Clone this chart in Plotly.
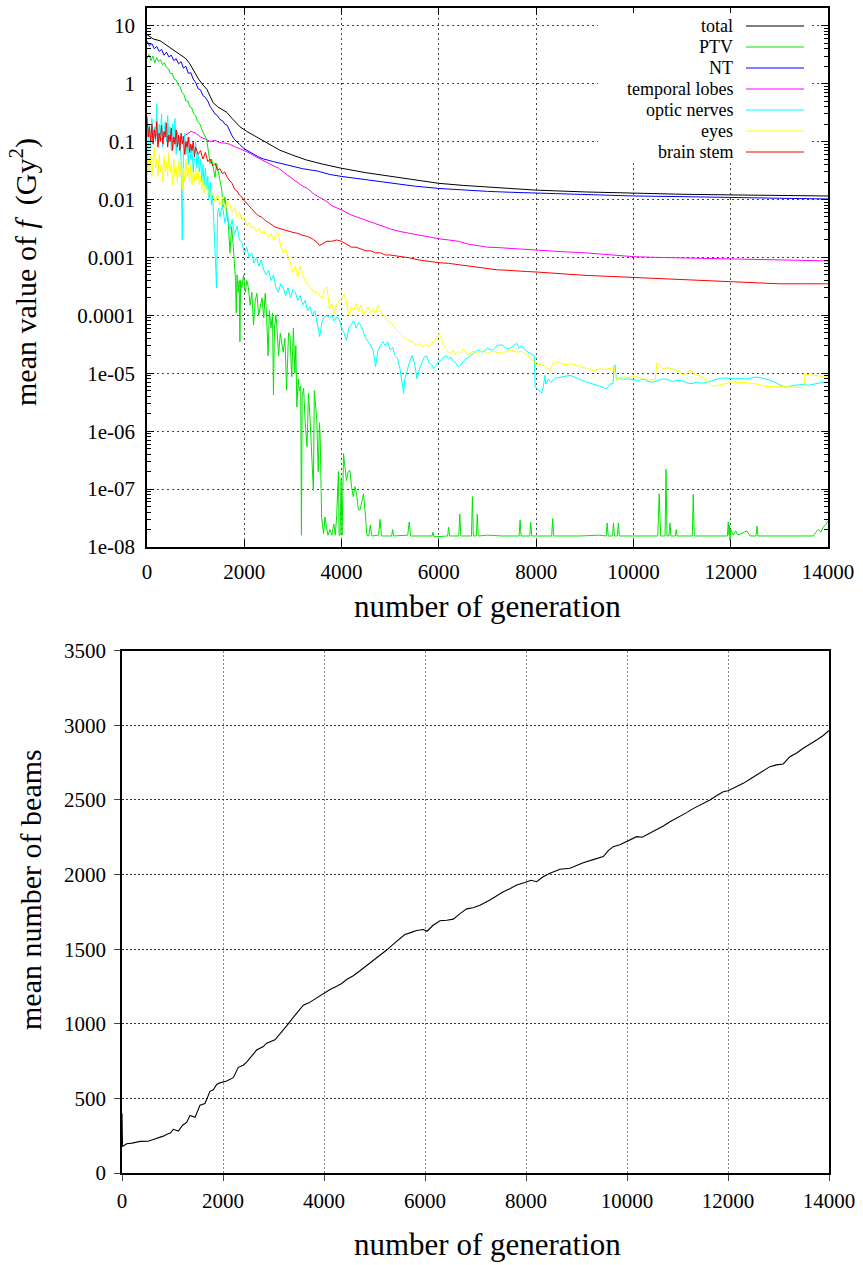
import plotly.graph_objects as go

W, H = 863, 1265

# ---------------- data (generation, value) ----------------
total_pts = [(0, 7.0), (130, 5.9), (270, 5.5), (405, 4.6), (540, 3.8), (680, 3.2), (800, 2.7), (880, 2.2),
             (970, 1.6), (1060, 1.2), (1150, 0.95), (1230, 0.8), (1300, 0.6), (1360, 0.47), (1450, 0.4),
             (1550, 0.36), (1640, 0.32), (1750, 0.25), (1910, 0.18), (2050, 0.15), (2250, 0.12), (2500, 0.09),
             (2730, 0.071), (3000, 0.058), (3280, 0.048), (3600, 0.041), (3970, 0.035), (4500, 0.029),
             (5000, 0.025), (5500, 0.0215), (6000, 0.019), (6500, 0.0175), (7000, 0.0163), (7500, 0.0153),
             (8000, 0.0145), (9000, 0.0135), (10000, 0.0128), (11000, 0.0123), (12000, 0.012), (13000, 0.0117),
             (14000, 0.0115)]

ptv_pts = [(0, 2.7), (40, 3.2), (80, 2.5), (120, 3.0), (160, 2.3), (200, 2.8), (240, 2.4), (280, 2.6), (320, 2.1),
           (360, 2.3), (400, 1.9), (440, 1.8), (480, 1.5), (520, 1.5), (560, 1.2), (600, 1.15), (640, 0.95),
           (680, 0.89), (720, 0.7), (760, 0.65), (800, 0.5), (840, 0.5), (880, 0.4), (920, 0.38), (960, 0.3),
           (1000, 0.28), (1040, 0.22), (1090, 0.2), (1130, 0.16), (1180, 0.13), (1227, 0.107), (1260, 0.07),
           (1295, 0.042), (1330, 0.05), (1364, 0.036), (1398, 0.024), (1432, 0.042), (1470, 0.03), (1500, 0.022),
           (1535, 0.015), (1569, 0.0074), (1603, 0.011), (1637, 0.0058), (1670, 0.004), (1706, 0.0012),
           (1740, 0.0034), (1775, 0.0015), (1809, 0.0007), (1820, 0.0004), (1835, 0.00011), (1850, 0.0005),
           (1875, 0.00025), (1895, 0.0004), (1910, 3.5e-5), (1925, 0.0004), (1950, 0.0003), (1985, 0.0005),
           (2020, 0.00025), (2050, 0.0004), (2085, 0.0003), (2120, 0.00015), (2155, 0.00025), (2190, 6.8e-5),
           (2225, 0.00018), (2260, 0.00024), (2295, 0.0001), (2330, 0.00015), (2365, 0.0002), (2400, 9e-5),
           (2430, 0.00024), (2460, 9.3e-5), (2490, 2e-5), (2515, 0.00012), (2550, 6e-5), (2580, 0.00011),
           (2600, 4.2e-6), (2620, 6e-5), (2650, 0.0001), (2670, 6.3e-5), (2705, 2e-5), (2740, 4.9e-5),
           (2770, 3e-5), (2800, 2.3e-5), (2835, 4e-5), (2870, 5.1e-6), (2910, 5e-5), (2940, 4.5e-5),
           (2975, 8.7e-6), (3010, 6e-5), (3040, 1e-5), (3060, 3e-5), (3080, 2.6e-6), (3110, 8e-6), (3130, 5e-6),
           (3160, 6e-6), (3175, 1.6e-8), (3190, 4e-6), (3220, 5.5e-6), (3250, 1.5e-6), (3290, 5.4e-7),
           (3320, 4.5e-6), (3350, 1.8e-6), (3385, 3.5e-7), (3420, 9.5e-8), (3440, 5e-6), (3460, 2.6e-6),
           (3490, 1.6e-6), (3520, 2e-7), (3545, 1.4e-6), (3560, 8e-7), (3590, 3.3e-8), (3630, 1.7e-8),
           (3660, 3.3e-8), (3690, 2.2e-8), (3720, 1.6e-8), (3760, 2e-8), (3800, 1.6e-8), (3840, 2.5e-8),
           (3870, 1.6e-8), (3900, 3.5e-8), (3920, 1.3e-7), (3935, 2e-7), (3950, 1.6e-8), (3970, 1.6e-8),
           (3990, 1.5e-7), (4010, 1.6e-8), (4040, 4.1e-7), (4070, 2.4e-7), (4100, 1.4e-7), (4135, 2e-7),
           (4170, 2.1e-7), (4205, 1.1e-7), (4240, 7.4e-8), (4275, 1.1e-7), (4310, 8e-8), (4345, 4.4e-8),
           (4380, 4.4e-8), (4415, 6e-8), (4450, 8.3e-8), (4485, 4e-8), (4520, 1.6e-8), (4560, 1.55e-8),
           (4590, 2.4e-8), (4620, 1.55e-8), (4760, 1.6e-8), (4790, 3e-8), (4820, 1.55e-8), (5030, 1.55e-8),
           (5050, 2e-8), (5070, 1.55e-8), (5360, 1.6e-8), (5390, 2.7e-8), (5420, 1.55e-8), (5860, 1.55e-8),
           (5880, 1.8e-8), (5900, 1.5e-8), (6180, 1.55e-8), (6200, 2.2e-8), (6220, 1.55e-8), (6410, 1.55e-8),
           (6430, 3.7e-8), (6450, 1.55e-8), (6670, 1.55e-8), (6690, 7.4e-8), (6710, 1.55e-8), (6770, 1.55e-8),
           (6790, 3.7e-8), (6810, 1.55e-8), (7000, 1.6e-8), (7300, 1.55e-8), (7650, 1.55e-8), (7670, 2.9e-8),
           (7690, 1.55e-8), (7870, 1.55e-8), (7890, 2.7e-8), (7910, 1.55e-8), (8320, 1.55e-8), (8340, 3.1e-8),
           (8360, 1.55e-8), (8900, 1.55e-8), (9300, 1.6e-8), (9440, 1.55e-8), (9460, 2.6e-8), (9480, 1.55e-8),
           (9570, 1.55e-8), (9590, 2.6e-8), (9610, 1.55e-8), (9670, 1.55e-8), (9690, 2.6e-8), (9710, 1.55e-8),
           (10100, 1.55e-8), (10500, 1.55e-8), (10530, 8.3e-8), (10560, 1.55e-8), (10650, 1.55e-8),
           (10670, 2.2e-7), (10690, 1.55e-8), (10730, 1.55e-8), (10750, 2.6e-8), (10770, 1.55e-8),
           (10860, 1.55e-8), (10880, 2e-8), (10900, 1.55e-8), (11210, 1.55e-8), (11230, 8.1e-8),
           (11250, 1.55e-8), (11600, 1.55e-8), (11930, 1.55e-8), (11950, 2.7e-8), (11965, 1.6e-8),
           (11975, 2.4e-8), (11985, 1.3e-8), (12000, 2e-8), (12050, 1.6e-8), (12100, 1.9e-8), (12150, 1.6e-8),
           (12330, 1.9e-8), (12400, 1.55e-8), (12520, 1.55e-8), (12540, 2.3e-8), (12560, 1.55e-8),
           (13000, 1.55e-8), (13600, 1.55e-8), (13700, 1.55e-8), (13750, 1.8e-8), (13800, 2e-8),
           (13850, 1.8e-8), (13900, 2.2e-8), (13950, 2.4e-8), (14000, 2.8e-8)]

nt_pts = [(0, 5.4), (50, 4.5), (100, 4.9), (150, 4.0), (200, 4.4), (250, 3.6), (300, 3.9), (350, 3.1), (400, 3.5),
          (450, 2.9), (500, 3.1), (550, 2.5), (600, 2.7), (650, 2.2), (700, 2.4), (750, 1.85), (800, 2.0),
          (850, 1.5), (900, 1.55), (950, 1.2), (1000, 1.05), (1050, 0.82), (1100, 0.78), (1150, 0.62), (1200, 0.58),
          (1250, 0.5), (1300, 0.4), (1350, 0.34), (1400, 0.3), (1450, 0.28), (1500, 0.24), (1550, 0.23),
          (1600, 0.2), (1650, 0.19), (1700, 0.15), (1750, 0.125), (1800, 0.108), (1850, 0.1), (1900, 0.09),
          (2000, 0.075), (2100, 0.066), (2200, 0.06), (2300, 0.054), (2400, 0.05), (2600, 0.045), (2800, 0.041),
          (3000, 0.037), (3200, 0.034), (3500, 0.031), (3760, 0.027), (4000, 0.025), (4500, 0.022),
          (5000, 0.019), (5500, 0.017), (6000, 0.0155), (6500, 0.0145), (7000, 0.0138), (7500, 0.0133),
          (8000, 0.0129), (9000, 0.012), (10000, 0.0115), (11000, 0.0112), (12000, 0.011), (13000, 0.0105),
          (14000, 0.0102)]

temporal_pts = [(0, 0.13), (100, 0.12), (200, 0.13), (300, 0.11), (400, 0.125), (500, 0.11), (600, 0.12),
                (700, 0.115), (800, 0.13), (900, 0.15), (1000, 0.14), (1100, 0.12), (1200, 0.11), (1300, 0.1),
                (1400, 0.105), (1500, 0.095), (1600, 0.094), (1700, 0.09), (1800, 0.082), (1900, 0.076),
                (2000, 0.07), (2100, 0.064), (2200, 0.057), (2300, 0.051), (2400, 0.046), (2500, 0.042),
                (2600, 0.038), (2700, 0.035), (2800, 0.03), (2900, 0.026), (3000, 0.022), (3100, 0.019),
                (3200, 0.017), (3300, 0.0155), (3400, 0.013), (3500, 0.0115), (3600, 0.0102), (3700, 0.0092),
                (3800, 0.0078), (3900, 0.0072), (4000, 0.0066), (4200, 0.0054), (4400, 0.0047), (4600, 0.0041),
                (4800, 0.0036), (5000, 0.0031), (5200, 0.0028), (5400, 0.0026), (5600, 0.0024), (5800, 0.0022),
                (6000, 0.0021), (6200, 0.002), (6400, 0.0019), (6600, 0.0017), (6800, 0.0016), (7000, 0.0015),
                (7200, 0.00148), (7400, 0.00144), (7600, 0.0014), (7800, 0.00137), (8000, 0.00135),
                (8500, 0.00126), (9000, 0.0012), (9500, 0.00112), (10000, 0.00103), (10500, 0.001),
                (11000, 0.00098), (11500, 0.00095), (12000, 0.00093), (12500, 0.00091), (13000, 0.0009),
                (13500, 0.00089), (14000, 0.00087)]

optic_pts = [(0, 0.006), (25, 0.15), (50, 0.2), (75, 0.08), (100, 0.25), (125, 0.12), (150, 0.18), (175, 0.1),
             (200, 0.45), (225, 0.09), (250, 0.2), (275, 0.13), (300, 0.3), (325, 0.08), (350, 0.15), (375, 0.22),
             (400, 0.1), (425, 0.28), (450, 0.12), (475, 0.18), (500, 0.07), (525, 0.2), (550, 0.1), (575, 0.25),
             (600, 0.06), (625, 0.15), (650, 0.09), (675, 0.12), (700, 0.05), (725, 0.002), (750, 0.08),
             (775, 0.14), (800, 0.06), (825, 0.1), (850, 0.04), (875, 0.12), (900, 0.05), (925, 0.08),
             (950, 0.03), (975, 0.06), (1000, 0.1), (1025, 0.035), (1050, 0.06), (1075, 0.03), (1100, 0.05),
             (1125, 0.02), (1150, 0.04), (1175, 0.018), (1200, 0.035), (1225, 0.015), (1250, 0.025),
             (1275, 0.01), (1300, 0.02), (1325, 0.008), (1350, 0.012), (1430, 0.0003), (1450, 0.006),
             (1475, 0.007), (1500, 0.005), (1550, 0.008), (1600, 0.004), (1650, 0.006), (1700, 0.003),
             (1750, 0.0045), (1800, 0.0025), (1850, 0.0035), (1900, 0.002), (1950, 0.0018), (2000, 0.0012),
             (2050, 0.0015), (2100, 0.001), (2150, 0.0012), (2200, 0.0008), (2250, 0.001), (2300, 0.0007),
             (2350, 0.0009), (2400, 0.0006), (2450, 0.0005), (2500, 0.0006), (2550, 0.0004), (2600, 0.0005),
             (2650, 0.0003), (2700, 0.00025), (2750, 0.00035), (2800, 0.0003), (2850, 0.00022), (2900, 0.0003),
             (2950, 0.0002), (3000, 0.00028), (3050, 0.00025), (3100, 0.00018), (3150, 0.00022), (3200, 0.00015),
             (3250, 0.00018), (3300, 0.00012), (3350, 0.00014), (3400, 0.0001), (3450, 0.00012), (3500, 7e-5),
             (3550, 4.3e-5), (3600, 8e-5), (3650, 9.5e-5), (3700, 0.0001), (3750, 9e-5), (3800, 0.0001),
             (3850, 8e-5), (3900, 9.5e-5), (3950, 8.5e-5), (4000, 6e-5), (4050, 5e-5), (4100, 3.7e-5),
             (4150, 6e-5), (4200, 7e-5), (4250, 8e-5), (4300, 6e-5), (4350, 7.5e-5), (4400, 6.5e-5),
             (4450, 5e-5), (4500, 4e-5), (4550, 3.5e-5), (4600, 3e-5), (4650, 2.5e-5), (4700, 1.3e-5),
             (4750, 2.5e-5), (4800, 3e-5), (4850, 3.5e-5), (4900, 3e-5), (4950, 3.5e-5), (5000, 2.5e-5),
             (5050, 2.8e-5), (5100, 2e-5), (5150, 1.8e-5), (5200, 1.2e-5), (5250, 6e-6), (5275, 4.5e-6),
             (5300, 8e-6), (5350, 1.2e-5), (5400, 1.6e-5), (5450, 2e-5), (5500, 1.5e-5), (5550, 8e-6),
             (5600, 1.2e-5), (5650, 1.5e-5), (5700, 1.9e-5), (5750, 2e-5), (5800, 1.5e-5), (5850, 1.4e-5),
             (5900, 1.2e-5), (5950, 1.4e-5), (6000, 1.6e-5), (6050, 1.7e-5), (6100, 1.9e-5), (6150, 2e-5),
             (6200, 1.8e-5), (6250, 1.9e-5), (6300, 1.6e-5), (6350, 1.5e-5), (6400, 1.3e-5), (6450, 1.4e-5),
             (6500, 1.6e-5), (6600, 1.9e-5), (6700, 2.2e-5), (6800, 2.5e-5), (6900, 2.3e-5), (7000, 2.7e-5),
             (7100, 2.5e-5), (7200, 3e-5), (7300, 3.1e-5), (7400, 2.6e-5), (7500, 2.8e-5), (7600, 3.3e-5),
             (7650, 2.7e-5), (7700, 3e-5), (7800, 2.4e-5), (7900, 2.1e-5), (7960, 2e-5), (7980, 5.8e-6),
             (8050, 5.2e-6), (8110, 4.5e-6), (8150, 6e-6), (8180, 9.2e-6), (8200, 6.5e-6), (8250, 8e-6),
             (8300, 7e-6), (8400, 8.2e-6), (8500, 8.5e-6), (8600, 9e-6), (8700, 9.2e-6), (8800, 8.5e-6),
             (8900, 7.8e-6), (9000, 7.2e-6), (9100, 6.8e-6), (9200, 6.3e-6), (9300, 6e-6), (9400, 5.6e-6),
             (9450, 5.4e-6), (9520, 6.5e-6), (9580, 6.6e-6), (9600, 1.3e-5), (9620, 1.4e-5), (9650, 8e-6),
             (9700, 8.2e-6), (9800, 7.8e-6), (9900, 8e-6), (10000, 7.7e-6), (10100, 7.5e-6), (10200, 7.9e-6),
             (10300, 7.2e-6), (10400, 7e-6), (10500, 7.6e-6), (10600, 8e-6), (10700, 7.8e-6), (10800, 7.2e-6),
             (10900, 7.6e-6), (11000, 7.4e-6), (11100, 6.8e-6), (11200, 6.6e-6), (11300, 7e-6), (11400, 6.7e-6),
             (11500, 7e-6), (11600, 7.3e-6), (11700, 7.8e-6), (11800, 8.2e-6), (11900, 8.3e-6), (12000, 8.1e-6),
             (12100, 8e-6), (12200, 8.2e-6), (12300, 7.9e-6), (12400, 8.2e-6), (12500, 8.6e-6), (12600, 8.4e-6),
             (12700, 8e-6), (12800, 7.6e-6), (12900, 7e-6), (13000, 6.3e-6), (13100, 5.8e-6), (13200, 5.9e-6),
             (13300, 6.2e-6), (13400, 6.3e-6), (13500, 6.4e-6), (13600, 6.2e-6), (13700, 6.5e-6),
             (13800, 6.7e-6), (13900, 7e-6), (14000, 6.9e-6)]

eyes_pts = [(0, 0.015), (25, 0.05), (50, 0.03), (75, 0.06), (100, 0.025), (125, 0.045), (150, 0.08), (175, 0.035),
            (200, 0.05), (225, 0.025), (250, 0.06), (275, 0.03), (300, 0.04), (325, 0.02), (350, 0.055),
            (375, 0.03), (400, 0.045), (425, 0.025), (450, 0.065), (475, 0.03), (500, 0.04), (525, 0.018),
            (550, 0.05), (575, 0.025), (600, 0.035), (625, 0.02), (650, 0.045), (675, 0.025), (700, 0.04),
            (725, 0.015), (750, 0.035), (775, 0.02), (800, 0.05), (825, 0.025), (850, 0.035), (875, 0.02),
            (900, 0.04), (925, 0.018), (950, 0.03), (975, 0.02), (1000, 0.035), (1025, 0.022), (1050, 0.03),
            (1075, 0.018), (1100, 0.025), (1125, 0.015), (1150, 0.022), (1175, 0.013), (1200, 0.018),
            (1250, 0.015), (1300, 0.012), (1350, 0.014), (1400, 0.009), (1450, 0.012), (1500, 0.008),
            (1550, 0.011), (1600, 0.007), (1650, 0.0095), (1700, 0.0085), (1750, 0.006), (1800, 0.007),
            (1850, 0.005), (1900, 0.006), (1950, 0.0045), (2000, 0.005), (2050, 0.0035), (2100, 0.004),
            (2150, 0.0032), (2200, 0.0034), (2250, 0.0028), (2300, 0.0032), (2350, 0.0026), (2400, 0.0028),
            (2450, 0.0025), (2500, 0.0022), (2550, 0.0026), (2600, 0.002), (2650, 0.0024), (2700, 0.0026),
            (2750, 0.0015), (2800, 0.0012), (2850, 0.0014), (2900, 0.001), (2950, 0.0008), (3000, 0.00055),
            (3050, 0.0007), (3100, 0.00046), (3150, 0.0007), (3200, 0.0005), (3250, 0.0004), (3300, 0.00035),
            (3350, 0.0003), (3400, 0.00028), (3450, 0.00024), (3500, 0.00026), (3550, 0.00022), (3600, 0.0002),
            (3650, 0.00028), (3700, 0.00031), (3750, 0.00013), (3800, 0.00016), (3850, 0.00011), (3900, 0.00015),
            (3950, 0.00018), (4000, 0.00019), (4050, 0.00023), (4100, 0.00017), (4150, 0.0001), (4200, 0.00014),
            (4250, 0.00012), (4300, 0.00016), (4350, 0.00012), (4400, 0.00015), (4450, 0.0001), (4500, 0.00012),
            (4550, 0.00014), (4600, 0.00011), (4650, 0.00013), (4700, 0.00011), (4750, 0.00015), (4800, 0.00012),
            (4850, 0.0001), (4900, 9e-5), (4950, 8e-5), (5000, 7.5e-5), (5050, 7e-5), (5100, 6e-5), (5150, 5.5e-5),
            (5200, 5e-5), (5250, 4.5e-5), (5300, 4e-5), (5350, 3.8e-5), (5400, 3.7e-5), (5450, 3.5e-5),
            (5500, 3.2e-5), (5550, 3e-5), (5600, 3.3e-5), (5650, 2.9e-5), (5700, 3e-5), (5750, 3.1e-5),
            (5800, 2.9e-5), (5850, 3.3e-5), (5900, 3.5e-5), (5950, 4e-5), (6000, 4.8e-5), (6050, 4.2e-5),
            (6100, 3e-5), (6150, 2.6e-5), (6200, 2.3e-5), (6250, 2.2e-5), (6300, 2.5e-5), (6350, 2.1e-5),
            (6400, 2.4e-5), (6450, 2.2e-5), (6500, 2.6e-5), (6550, 2.3e-5), (6600, 2.1e-5), (6700, 2.4e-5),
            (6800, 2.2e-5), (6900, 2.5e-5), (7000, 2.2e-5), (7100, 2.4e-5), (7200, 2.3e-5), (7300, 2.2e-5),
            (7400, 2.4e-5), (7500, 2.5e-5), (7600, 2.3e-5), (7700, 2.4e-5), (7800, 2.1e-5), (7900, 1.8e-5),
            (8000, 1.4e-5), (8100, 1.4e-5), (8200, 1.3e-5), (8290, 1.1e-5), (8350, 1.5e-5), (8400, 1.6e-5),
            (8500, 1.5e-5), (8600, 1.4e-5), (8700, 1.45e-5), (8800, 1.4e-5), (8900, 1.3e-5), (9000, 1.25e-5),
            (9100, 1.15e-5), (9200, 1.1e-5), (9300, 1.2e-5), (9400, 1.15e-5), (9500, 1.2e-5), (9600, 1.25e-5),
            (9650, 7.8e-6), (9700, 8.2e-6), (9800, 8.6e-6), (9900, 8.4e-6), (10000, 8.8e-6), (10100, 8.5e-6),
            (10200, 8.2e-6), (10300, 7.6e-6), (10400, 7.8e-6), (10450, 7.6e-6), (10480, 1.5e-5), (10550, 1.4e-5),
            (10600, 1.2e-5), (10700, 1.25e-5), (10800, 1.2e-5), (10900, 1.15e-5), (10950, 1.1e-5),
            (11000, 9.6e-6), (11100, 9.8e-6), (11160, 1.15e-5), (11250, 9.8e-6), (11350, 9.1e-6),
            (11450, 8.2e-6), (11550, 7e-6), (11650, 5.9e-6), (11750, 6.2e-6), (11850, 6.4e-6), (11950, 6.8e-6),
            (12050, 7.1e-6), (12150, 6.9e-6), (12250, 7e-6), (12350, 6.8e-6), (12450, 6.6e-6), (12550, 6.5e-6),
            (12650, 6.1e-6), (12750, 5.9e-6), (12850, 5.9e-6), (12950, 5.8e-6), (13050, 5.9e-6),
            (13150, 5.8e-6), (13250, 5.7e-6), (13350, 5.6e-6), (13500, 5.6e-6), (13530, 9.6e-6), (13600, 9.5e-6),
            (13700, 9.3e-6), (13800, 9e-6), (13900, 8.7e-6), (14000, 8.4e-6)]

brainstem_pts = [(0, 0.27), (25, 0.12), (50, 0.18), (75, 0.1), (100, 0.2), (125, 0.09), (150, 0.16), (175, 0.11),
                 (200, 0.22), (225, 0.08), (250, 0.14), (275, 0.1), (300, 0.19), (325, 0.09), (350, 0.15),
                 (375, 0.12), (400, 0.21), (425, 0.08), (450, 0.13), (475, 0.1), (500, 0.17), (525, 0.07),
                 (550, 0.12), (575, 0.09), (600, 0.16), (625, 0.08), (650, 0.13), (675, 0.07), (700, 0.14),
                 (725, 0.09), (750, 0.12), (775, 0.06), (800, 0.1), (825, 0.08), (850, 0.12), (875, 0.065),
                 (900, 0.09), (925, 0.07), (950, 0.1), (975, 0.055), (1000, 0.08), (1050, 0.06), (1100, 0.07),
                 (1150, 0.05), (1200, 0.065), (1250, 0.045), (1300, 0.05), (1350, 0.038), (1400, 0.042),
                 (1450, 0.032), (1500, 0.034), (1550, 0.028), (1600, 0.03), (1650, 0.024), (1700, 0.021),
                 (1750, 0.019), (1800, 0.015), (1850, 0.014), (1900, 0.012), (1950, 0.011), (2000, 0.0095),
                 (2050, 0.0085), (2100, 0.0075), (2150, 0.0068), (2200, 0.0062), (2250, 0.0056), (2300, 0.0052),
                 (2350, 0.005), (2400, 0.0046), (2450, 0.0042), (2500, 0.004), (2550, 0.0038), (2600, 0.0035),
                 (2650, 0.0033), (2700, 0.0032), (2800, 0.003), (2900, 0.0028), (3000, 0.0027), (3100, 0.0026),
                 (3200, 0.0024), (3300, 0.0023), (3400, 0.0021), (3500, 0.0018), (3550, 0.0016), (3600, 0.0017),
                 (3700, 0.0019), (3800, 0.0019), (3900, 0.002), (4000, 0.0019), (4100, 0.0017), (4200, 0.0015),
                 (4300, 0.0015), (4400, 0.0014), (4500, 0.0013), (4600, 0.0013), (4700, 0.0012), (4800, 0.0012),
                 (4900, 0.0011), (5000, 0.0011), (5200, 0.00105), (5400, 0.00098), (5600, 0.0009),
                 (5800, 0.00085), (6000, 0.00081), (6200, 0.00079), (6400, 0.00075), (6600, 0.0007),
                 (6800, 0.00066), (7000, 0.00063), (7200, 0.00061), (7400, 0.0006), (7600, 0.00058),
                 (7800, 0.00057), (8000, 0.00056), (8500, 0.00052), (9000, 0.00049), (9500, 0.00047),
                 (10000, 0.00045), (10500, 0.00043), (11000, 0.00041), (11500, 0.00039), (12000, 0.00038),
                 (12500, 0.00036), (13000, 0.00035), (13500, 0.00035), (14000, 0.00035)]

beams_pts = [(0, 400), (10, 178), (93, 196), (200, 200), (356, 212), (450, 215), (520, 213), (620, 224), (700, 232),
             (760, 236), (818, 247), (900, 262), (960, 268), (1016, 293), (1115, 281), (1200, 320), (1281, 339),
             (1346, 385), (1446, 373), (1544, 454), (1643, 466), (1742, 547), (1808, 558), (1874, 593),
             (1940, 604), (2072, 616), (2204, 639), (2303, 708), (2400, 722), (2468, 743), (2580, 790),
             (2666, 824), (2798, 847), (2864, 870), (3029, 893), (3128, 930), (3260, 986), (3392, 1043),
             (3500, 1085), (3590, 1124), (3700, 1140), (3788, 1159), (3900, 1185), (3986, 1205), (4120, 1230),
             (4251, 1251), (4350, 1270), (4449, 1297), (4580, 1322), (4712, 1355), (4850, 1390), (4976, 1424),
             (5100, 1455), (5241, 1494), (5380, 1535), (5504, 1574), (5600, 1598), (5702, 1609), (5830, 1625),
             (5966, 1632), (6040, 1620), (6160, 1660), (6296, 1690), (6430, 1694), (6560, 1701), (6700, 1740),
             (6825, 1770), (6950, 1778), (7088, 1794), (7286, 1829), (7420, 1860), (7550, 1885), (7680, 1905),
             (7815, 1930), (7979, 1946), (8100, 1962), (8211, 1952), (8340, 1985), (8474, 2008), (8672, 2035),
             (8870, 2042), (9000, 2060), (9134, 2079), (9330, 2100), (9530, 2120), (9630, 2160), (9728, 2187),
             (9860, 2200), (9993, 2220), (10191, 2254), (10300, 2250), (10440, 2275), (10587, 2298),
             (10720, 2325), (10850, 2354), (11000, 2380), (11181, 2415), (11300, 2440), (11444, 2466),
             (11642, 2499), (11780, 2530), (11906, 2555), (12000, 2562), (12104, 2578), (12302, 2611),
             (12440, 2640), (12566, 2667), (12700, 2695), (12830, 2723), (12960, 2735), (13094, 2741),
             (13226, 2790), (13360, 2815), (13490, 2846), (13620, 2872), (13755, 2902), (13880, 2930),
             (14000, 2965)]

series_names = ["total", "PTV", "NT", "temporal lobes", "optic nerves", "eyes", "brain stem"]
series_colors = ["#000000", "#00e600", "#0000ff", "#ff00ff", "#00ffff", "#ffff00", "#ff0000"]
series_data = [total_pts, ptv_pts, nt_pts, temporal_pts, optic_pts, eyes_pts, brainstem_pts]

log_tickvals = [1e-8, 1e-7, 1e-6, 1e-5, 1e-4, 1e-3, 1e-2, 1e-1, 1, 10]
log_ticktext = ["1e-08", "1e-07", "1e-06", "1e-05", "0.0001", "0.001", "0.01", "0.1", "1", "10"]
gen_tickvals = [0, 2000, 4000, 6000, 8000, 10000, 12000, 14000]
gen_ticktext = ["0", "2000", "4000", "6000", "8000", "10000", "12000", "14000"]
beam_tickvals = [0, 500, 1000, 1500, 2000, 2500, 3000, 3500]
beam_ticktext = ["0", "500", "1000", "1500", "2000", "2500", "3000", "3500"]

# ---------------- figure ----------------
def px(x):
    return x / W

def py(y):
    return 1 - y / H

SERIF = "Liberation Serif, Times New Roman, serif"
fig = go.Figure()

for name, pts, color in zip(series_names, series_data, series_colors):
    g, v = zip(*pts)
    fig.add_trace(go.Scatter(x=list(g), y=list(v), mode="lines", name=name,
                             line=dict(color=color, width=1), xaxis="x", yaxis="y", showlegend=False))

bg, bv = zip(*beams_pts)
fig.add_trace(go.Scatter(x=list(bg), y=list(bv), mode="lines", line=dict(color="black", width=1.1),
                         xaxis="x2", yaxis="y2", showlegend=False))

minor_vals = [k * 10.0 ** e for e in range(-8, 2) for k in range(2, 10)]
tickfont = dict(family=SERIF, size=21, color="black")

fig.update_layout(
    width=W, height=H, margin=dict(l=0, r=0, t=0, b=0, autoexpand=False),
    font=dict(family=SERIF, size=21, color="black"),
    paper_bgcolor="white", plot_bgcolor="white", showlegend=False,
    xaxis=dict(domain=[px(147), px(828)], range=[0, 14000], anchor="y", automargin=False,
               tickmode="array", tickvals=gen_tickvals, ticktext=gen_ticktext,
               showgrid=True, gridcolor="#444", griddash="2px,3px", gridwidth=1, zeroline=False,
               ticks="inside", ticklen=7, tickcolor="black", showline=True, linecolor="black", linewidth=1.5,
               mirror="allticks", tickfont=tickfont, ticklabelstandoff=5),
    yaxis=dict(domain=[py(547), py(8)], type="log", range=[-8, 1.306], anchor="x", automargin=False,
               tickmode="array", tickvals=log_tickvals, ticktext=log_ticktext,
               showgrid=True, gridcolor="#444", griddash="2px,3px", gridwidth=1, zeroline=False,
               ticks="inside", ticklen=7, tickcolor="black", showline=True, linecolor="black", linewidth=1.5,
               mirror="allticks", tickfont=tickfont, ticklabelstandoff=6,
               minor=dict(tickmode="array", tickvals=minor_vals, ticks="inside", ticklen=4,
                          tickcolor="black", showgrid=False)),
    xaxis2=dict(domain=[px(122), px(829)], range=[0, 14000], anchor="y2", automargin=False,
                tickmode="array", tickvals=gen_tickvals, ticktext=gen_ticktext,
                showgrid=True, gridcolor="#888", griddash="2px,2px", gridwidth=1, zeroline=False,
                ticks="outside", ticklen=6, tickcolor="#444", showline=True, linecolor="black", linewidth=1.5,
                mirror=True, tickfont=tickfont, ticklabelstandoff=2),
    yaxis2=dict(domain=[py(1173), py(650.7)], range=[0, 3500], anchor="x2", automargin=False,
                tickmode="array", tickvals=beam_tickvals, ticktext=beam_ticktext,
                showgrid=True, gridcolor="#333", griddash="2px,2px", gridwidth=1, zeroline=False,
                ticks="outside", ticklen=6, tickcolor="#444", showline=True, linecolor="black", linewidth=1.5,
                mirror=True, tickfont=tickfont, ticklabelstandoff=4),
)

# legend (text left of the sample line, as in the reference)
shapes = [dict(type="rect", xref="paper", yref="paper", x0=px(598), x1=px(812), y0=py(163), y1=py(13),
               fillcolor="white", line=dict(width=0), layer="above")]
annotations = []
row_y = [26, 47, 68, 89, 110, 131, 152]
for name, color, yy in zip(series_names, series_colors, row_y):
    annotations.append(dict(text=name, xref="paper", yref="paper", x=px(734), y=py(yy),
                            xanchor="right", yanchor="middle", showarrow=False, borderpad=0,
                            font=dict(family=SERIF, size=18, color="black")))
    shapes.append(dict(type="line", xref="paper", yref="paper", x0=px(746), x1=px(804), y0=py(yy), y1=py(yy),
                       line=dict(color=color, width=1), layer="above"))

# axis titles
ytitle_font = dict(family=SERIF, size=30, color="black")
xtitle_font = dict(family=SERIF, size=31, color="black")
annotations += [
    dict(text="mean value of <i>f</i>  (Gy<sup>2</sup>)", xref="paper", yref="paper", x=px(23), y=py(272),
         textangle=-90, showarrow=False, xanchor="center", yanchor="middle", font=ytitle_font),
    dict(text="number of generation", xref="paper", yref="paper", x=px(487), y=py(606),
         showarrow=False, xanchor="center", yanchor="middle", font=xtitle_font),
    dict(text="mean number of beams", xref="paper", yref="paper", x=px(30), y=py(890),
         textangle=-90, showarrow=False, xanchor="center", yanchor="middle", font=ytitle_font),
    dict(text="number of generation", xref="paper", yref="paper", x=px(487), y=py(1244),
         showarrow=False, xanchor="center", yanchor="middle", font=xtitle_font),
]
fig.update_layout(shapes=shapes, annotations=annotations)

fig.write_html("out.html")
